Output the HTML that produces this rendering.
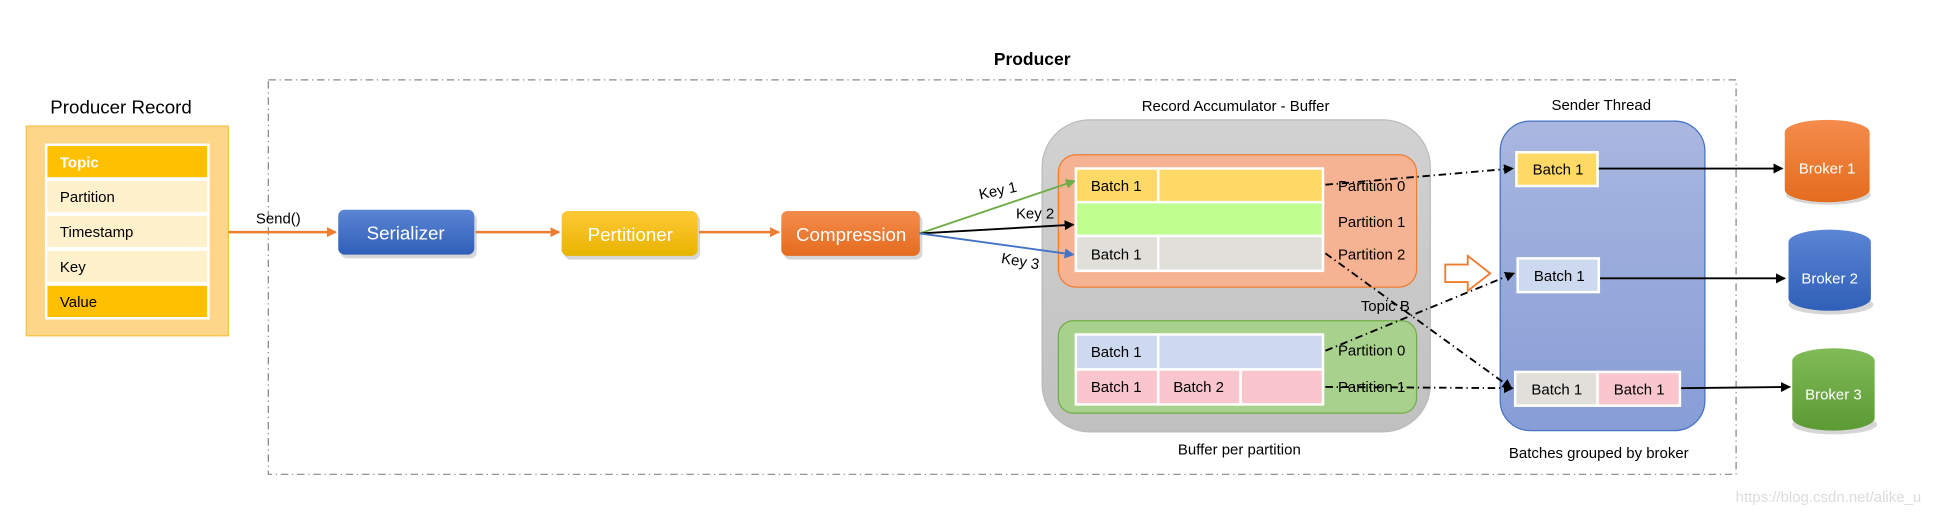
<!DOCTYPE html>
<html><head><meta charset="utf-8"><style>
html,body{margin:0;padding:0;background:#fff;width:1957px;height:518px;overflow:hidden}
svg{display:block}
text{font-family:"Liberation Sans Narrow","Liberation Sans",sans-serif;}
</style></head><body>
<svg width="1957" height="518" viewBox="0 0 1568 415" preserveAspectRatio="none" xmlns="http://www.w3.org/2000/svg">
<defs>
<marker id="ab" markerWidth="8" markerHeight="8" refX="7" refY="4" orient="auto" markerUnits="userSpaceOnUse"><path d="M0,0 L8,4 L0,8z" fill="#000"/></marker>
<marker id="ao" markerWidth="8" markerHeight="8" refX="7" refY="4" orient="auto" markerUnits="userSpaceOnUse"><path d="M0,0 L8,4 L0,8z" fill="#ED7D31"/></marker>
<marker id="ag" markerWidth="8" markerHeight="8" refX="7" refY="4" orient="auto" markerUnits="userSpaceOnUse"><path d="M0,0 L8,4 L0,8z" fill="#70AD47"/></marker>
<marker id="abl" markerWidth="8" markerHeight="8" refX="7" refY="4" orient="auto" markerUnits="userSpaceOnUse"><path d="M0,0 L8,4 L0,8z" fill="#4472C4"/></marker>
<linearGradient id="gb" x1="0" y1="0" x2="0" y2="1"><stop offset="0" stop-color="#5b85d4"/><stop offset="1" stop-color="#2f5fb8"/></linearGradient>
<linearGradient id="gy" x1="0" y1="0" x2="0" y2="1"><stop offset="0" stop-color="#ffc936"/><stop offset="1" stop-color="#e8b400"/></linearGradient>
<linearGradient id="go" x1="0" y1="0" x2="0" y2="1"><stop offset="0" stop-color="#f48c4c"/><stop offset="1" stop-color="#e46c1e"/></linearGradient>
<linearGradient id="gg" x1="0" y1="0" x2="0" y2="1"><stop offset="0" stop-color="#80bb58"/><stop offset="1" stop-color="#5c9a34"/></linearGradient>
<linearGradient id="gs" x1="0" y1="0" x2="0" y2="1"><stop offset="0" stop-color="#a9b7e0"/><stop offset="1" stop-color="#879dd6"/></linearGradient>
<linearGradient id="ga" x1="0" y1="0" x2="0" y2="1"><stop offset="0" stop-color="#d2d2d2"/><stop offset="1" stop-color="#c0c0c0"/></linearGradient>
</defs>

<text x="827" y="52" font-size="14" font-weight="bold" text-anchor="middle" font-family="Liberation Sans,sans-serif">Producer</text>
<rect x="215" y="64" width="1176" height="316" fill="none" stroke="#888" stroke-width="1" stroke-dasharray="6,3,1,3"/>

<text x="97" y="91" font-size="15" text-anchor="middle">Producer Record</text>
<rect x="21" y="101" width="162" height="168" fill="#fed68a" stroke="#f7c243"/>
<g stroke="#fff" stroke-width="2">
<rect x="37" y="116" width="130" height="27" fill="#FFC000"/>
<rect x="37" y="144" width="130" height="27" fill="#FFF1CC"/>
<rect x="37" y="172" width="130" height="27" fill="#FFF1CC"/>
<rect x="37" y="200" width="130" height="27" fill="#FFF1CC"/>
<rect x="37" y="228" width="130" height="27" fill="#FFC000"/>
</g>
<g font-size="12">
<text x="48" y="134" fill="#fff" font-weight="bold">Topic</text>
<text x="48" y="162">Partition</text>
<text x="48" y="190">Timestamp</text>
<text x="48" y="218">Key</text>
<text x="48" y="246">Value</text>
</g>

<text x="205" y="179" font-size="12">Send()</text>
<g stroke="#ED7D31" stroke-width="2">
<line x1="183" y1="186" x2="269" y2="186" marker-end="url(#ao)"/>
<line x1="381" y1="186" x2="448" y2="186" marker-end="url(#ao)"/>
<line x1="560" y1="186" x2="624" y2="186" marker-end="url(#ao)"/>
</g>
<g>
<rect x="273" y="171" width="109" height="36" rx="5" fill="#999" opacity="0.4"/>
<rect x="271" y="168" width="109" height="36" rx="5" fill="url(#gb)"/>
<text x="325" y="192" font-size="15" fill="#fff" text-anchor="middle">Serializer</text>
<rect x="452" y="172" width="109" height="36" rx="5" fill="#999" opacity="0.4"/>
<rect x="450" y="169" width="109" height="36" rx="5" fill="url(#gy)"/>
<text x="505" y="193" font-size="15" fill="#fff" text-anchor="middle">Pertitioner</text>
<rect x="628" y="172" width="111" height="36" rx="5" fill="#999" opacity="0.4"/>
<rect x="626" y="169" width="111" height="36" rx="5" fill="url(#go)"/>
<text x="682" y="193" font-size="15" fill="#fff" text-anchor="middle">Compression</text>
</g>

<!-- accumulator -->
<text x="990" y="89" font-size="12" text-anchor="middle">Record Accumulator - Buffer</text>
<rect x="835" y="96" width="311" height="250" rx="38" fill="url(#ga)" stroke="#bbb"/>
<text x="1096" y="148" font-size="12" text-anchor="middle">Topic A</text>
<rect x="848" y="124" width="287" height="106" rx="14" fill="#f6b394" stroke="#ED7D31"/>
<g stroke="#fff" stroke-width="2">
<rect x="862" y="135" width="66" height="27" fill="#FFD966"/>
<rect x="928" y="135" width="132" height="27" fill="#FFD966"/>
<rect x="862" y="162" width="198" height="27" fill="#bfff8f"/>
<rect x="862" y="189" width="66" height="28" fill="#e0dfda"/>
<rect x="928" y="189" width="132" height="28" fill="#e0dfda"/>
</g>
<text x="1110" y="249" font-size="12" text-anchor="middle">Topic B</text>
<rect x="848" y="257" width="287" height="74" rx="12" fill="#a9d18e" stroke="#70AD47"/>
<g stroke="#fff" stroke-width="2">
<rect x="862" y="268" width="66" height="28" fill="#cdd9ef"/>
<rect x="928" y="268" width="132" height="28" fill="#cdd9ef"/>
<rect x="862" y="296" width="66" height="28" fill="#f8c6cc"/>
<rect x="928" y="296" width="66" height="28" fill="#f8c6cc"/>
<rect x="994" y="296" width="66" height="28" fill="#f8c6cc"/>
</g>
<g font-size="12">
<text x="874" y="153">Batch 1</text>
<text x="874" y="208">Batch 1</text>
<text x="874" y="286">Batch 1</text>
<text x="874" y="314">Batch 1</text>
<text x="940" y="314">Batch 2</text>
<text x="1072" y="153">Partition 0</text>
<text x="1072" y="182">Partition 1</text>
<text x="1072" y="208">Partition 2</text>
<text x="1072" y="285">Partition 0</text>
<text x="1072" y="314">Partition 1</text>
</g>
<text x="993" y="364" font-size="12" text-anchor="middle">Buffer per partition</text>

<!-- keys -->
<line x1="737" y1="187" x2="861" y2="145" stroke="#70AD47" stroke-width="1.5" marker-end="url(#ag)"/>
<line x1="737" y1="187" x2="860" y2="180" stroke="#000" stroke-width="1.5" marker-end="url(#ab)"/>
<line x1="737" y1="187" x2="860" y2="204" stroke="#4472C4" stroke-width="1.5" marker-end="url(#abl)"/>
<text x="784" y="157" font-size="12" transform="rotate(-12 798 152)">Key 1</text>
<text x="814" y="175" font-size="12">Key 2</text>
<text x="802" y="213" font-size="12" transform="rotate(10 816 210)">Key 3</text>

<!-- sender -->
<text x="1283" y="88" font-size="12" text-anchor="middle">Sender Thread</text>
<rect x="1202" y="97" width="164" height="248" rx="24" fill="url(#gs)" stroke="#4472C4"/>
<text x="1281" y="367" font-size="12" text-anchor="middle">Batches grouped by broker</text>
<g stroke="#fff" stroke-width="2">
<rect x="1215" y="122" width="65" height="27" fill="#FFD966"/>
<rect x="1216" y="207" width="65" height="27" fill="#cdd9ef"/>
<rect x="1214" y="298" width="66" height="27" fill="#e0dfda"/>
<rect x="1280" y="298" width="66" height="27" fill="#f8c6cc"/>
</g>
<g font-size="12">
<text x="1228" y="140">Batch 1</text>
<text x="1229" y="225">Batch 1</text>
<text x="1227" y="316">Batch 1</text>
<text x="1293" y="316">Batch 1</text>
</g>
<path d="M1158,212 L1176,212 L1176,205 L1194,219 L1176,233 L1176,226 L1158,226z" fill="none" stroke="#ED7D31" stroke-width="1.5"/>

<g stroke="#000" stroke-width="1.5" stroke-dasharray="6,3,1,3" fill="none">
<line x1="1062" y1="148" x2="1212" y2="135" marker-end="url(#ab)"/>
<line x1="1062" y1="281" x2="1213" y2="219" marker-end="url(#ab)"/>
<line x1="1062" y1="203" x2="1211" y2="311" marker-end="url(#ab)"/>
<line x1="1062" y1="310" x2="1212" y2="311" marker-end="url(#ab)"/>
</g>

<g stroke="#000" stroke-width="1.5">
<line x1="1281" y1="135" x2="1428" y2="135" marker-end="url(#ab)"/>
<line x1="1282" y1="223" x2="1430" y2="223" marker-end="url(#ab)"/>
<line x1="1347" y1="311" x2="1434" y2="310" marker-end="url(#ab)"/>
</g>
<g>
<ellipse cx="1465" cy="156" rx="34" ry="8" fill="#999" opacity="0.4"/>
<path d="M1430,106 A34,10 0 0 1 1498,106 L1498,152 A34,10 0 0 1 1430,152z" fill="url(#go)"/>
<text x="1464" y="139" font-size="12" fill="#fff" text-anchor="middle">Broker 1</text>
<ellipse cx="1467" cy="244" rx="34" ry="8" fill="#999" opacity="0.4"/>
<path d="M1433,194 A33,10 0 0 1 1499,194 L1499,239 A33,10 0 0 1 1433,239z" fill="url(#gb)"/>
<text x="1466" y="227" font-size="12" fill="#fff" text-anchor="middle">Broker 2</text>
<ellipse cx="1470" cy="340" rx="34" ry="8" fill="#999" opacity="0.4"/>
<path d="M1436,289 A33,10 0 0 1 1502,289 L1502,335 A33,10 0 0 1 1436,335z" fill="url(#gg)"/>
<text x="1469" y="320" font-size="12" fill="#fff" text-anchor="middle">Broker 3</text>
</g>
<text x="1465" y="402" font-size="12" fill="#dcdcdc" text-anchor="middle">https://blog.csdn.net/alike_u</text>
</svg>
</body></html>
